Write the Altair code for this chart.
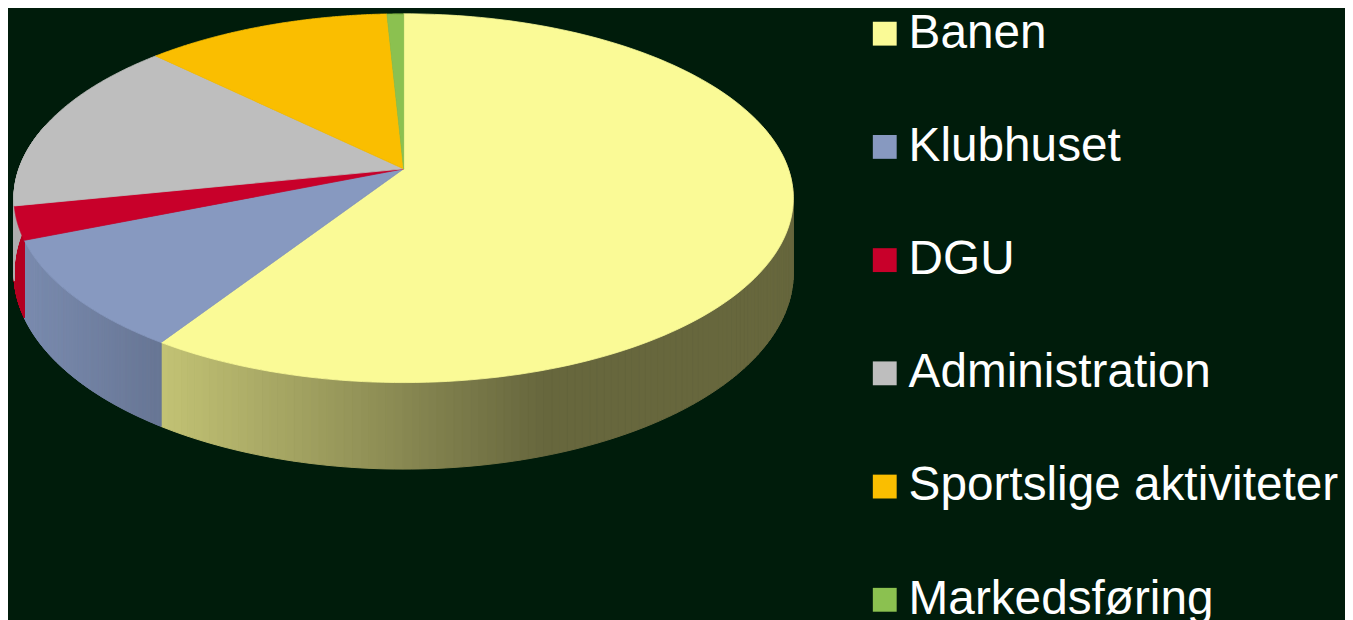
import altair as alt
import pandas as pd

# ---- data ----
categories = ["Banen", "Klubhuset", "DGU", "Administration",
              "Sportslige aktiviteter", "Markedsføring"]
values = [59.2, 9.7, 2.9, 15.5, 11.9, 0.8]

# ---- styles ----
colors = ["#FAFA96", "#8799C0", "#C8002A", "#BEBEBE", "#FABE00", "#8BC150"]
BG = "#001C0B"

W, H = 1345, 612          # plot area
CX, CY = 406, 168         # pie centre (page px)
A, B, K, D = 387, 180.8, 0.159, 73.2   # perspective ellipse params, depth
NT = 160                  # top arc resolution per slice
NS = 200                  # side segments per slice


def _rgb(h):
    h = h.lstrip("#")
    return [int(h[i:i + 2], 16) for i in (0, 2, 4)]


df = pd.DataFrame({
    "category": categories,
    "value": values,
    "idx": list(range(len(categories))),
    "r": [_rgb(c)[0] for c in colors],
    "g": [_rgb(c)[1] for c in colors],
    "b": [_rgb(c)[2] for c in colors],
})

xs = alt.Scale(domain=[8, 8 + W], nice=False, zero=False)
ys = alt.Scale(domain=[8, 8 + H], nice=False, zero=False, reverse=True)

base = (
    alt.Chart(df)
    .transform_joinaggregate(total="sum(value)")
    .transform_window(cum="sum(value)", sort=[alt.SortField("idx")], frame=[None, 0])
    .transform_calculate(
        a0="2*PI*(datum.cum - datum.value)/datum.total",
        a1="2*PI*datum.cum/datum.total",
    )
)

# ---- sides (shaded segments) ----
sides = (
    base
    .transform_calculate(segs=f"sequence(0, {NS})")
    .transform_flatten(["segs"], as_=["i"])
    .transform_calculate(pm=f"datum.a0 + (datum.i + 0.5)/{NS}*(datum.a1 - datum.a0)")
    .transform_filter("cos(datum.pm) < 0.25")
    .transform_calculate(corners="sequence(0, 5)")
    .transform_flatten(["corners"], as_=["c"])
    .transform_calculate(
        phi=f"datum.a0 + (datum.i + ((datum.c == 1 || datum.c == 2) ? 1 : 0))/{NS}*(datum.a1 - datum.a0)",
    )
    .transform_calculate(
        X=f"{CX} + {A}*sin(datum.phi)/(1 + {K}*cos(datum.phi))",
        Y=f"(datum.c == 2 || datum.c == 3) ? {CY} + ({D} - {B}*cos(datum.phi))/(1 + {K}*cos(datum.phi)) : {CY} - {B}*cos(datum.phi)/(1 + {K}*cos(datum.phi))",
        XM=f"{CX} + {A}*sin(datum.pm)/(1 + {K}*cos(datum.pm))",
    )
    .transform_calculate(f="clamp(0.78 - (datum.XM - 160)*0.000954, 0.41, 0.92)")
    .transform_calculate(
        shade="'rgb(' + round(datum.r*datum.f) + ',' + round(datum.g*datum.f) + ',' + round(datum.b*datum.f) + ')'"
    )
    .mark_line(strokeWidth=1, interpolate="linear")
    .encode(
        x=alt.X("X:Q", scale=xs, axis=None),
        y=alt.Y("Y:Q", scale=ys, axis=None),
        order=alt.Order("c:Q"),
        detail=["category:N", "i:Q"],
        fill=alt.Fill("shade:N", scale=None),
        stroke=alt.Stroke("shade:N", scale=None),
    )
)

# ---- top faces ----
tops = (
    base
    .transform_calculate(pts=f"sequence(0, {NT + 3})")
    .transform_flatten(["pts"], as_=["j"])
    .transform_calculate(
        phi=f"datum.a0 + clamp((datum.j - 1)/{NT}, 0, 1)*(datum.a1 - datum.a0)",
        ctr=f"datum.j == 0 || datum.j == {NT + 2}",
    )
    .transform_calculate(
        X=f"datum.ctr ? {CX} : {CX} + {A}*sin(datum.phi)/(1 + {K}*cos(datum.phi))",
        Y=f"datum.ctr ? {CY} : {CY} - {B}*cos(datum.phi)/(1 + {K}*cos(datum.phi))",
    )
    .mark_line(strokeWidth=0.8, interpolate="linear")
    .encode(
        x=alt.X("X:Q", scale=xs, axis=None),
        y=alt.Y("Y:Q", scale=ys, axis=None),
        order=alt.Order("j:Q"),
        detail="category:N",
        fill=alt.Fill(
            "category:N",
            scale=alt.Scale(domain=categories, range=colors),
            sort=categories,
            legend=alt.Legend(
                orient="none", legendX=858, legendY=0, title=None,
                symbolType="square", symbolSize=576, symbolStrokeWidth=0,
                symbolOpacity=1,
                labelFontSize=48, labelFont="Liberation Sans", labelColor="white",
                labelOffset=0, rowPadding=65.9, padding=0, labelLimit=0,
            ),
        ),
        stroke=alt.Stroke(
            "category:N",
            scale=alt.Scale(domain=categories, range=colors),
            legend=None,
        ),
    )
)

chart = (
    alt.layer(sides, tops)
    .properties(width=W, height=H, padding=0, autosize="none", background=BG)
    .configure_view(stroke=None)
)

chart.save("out.html", embed_options={"renderer": "svg", "actions": False})
